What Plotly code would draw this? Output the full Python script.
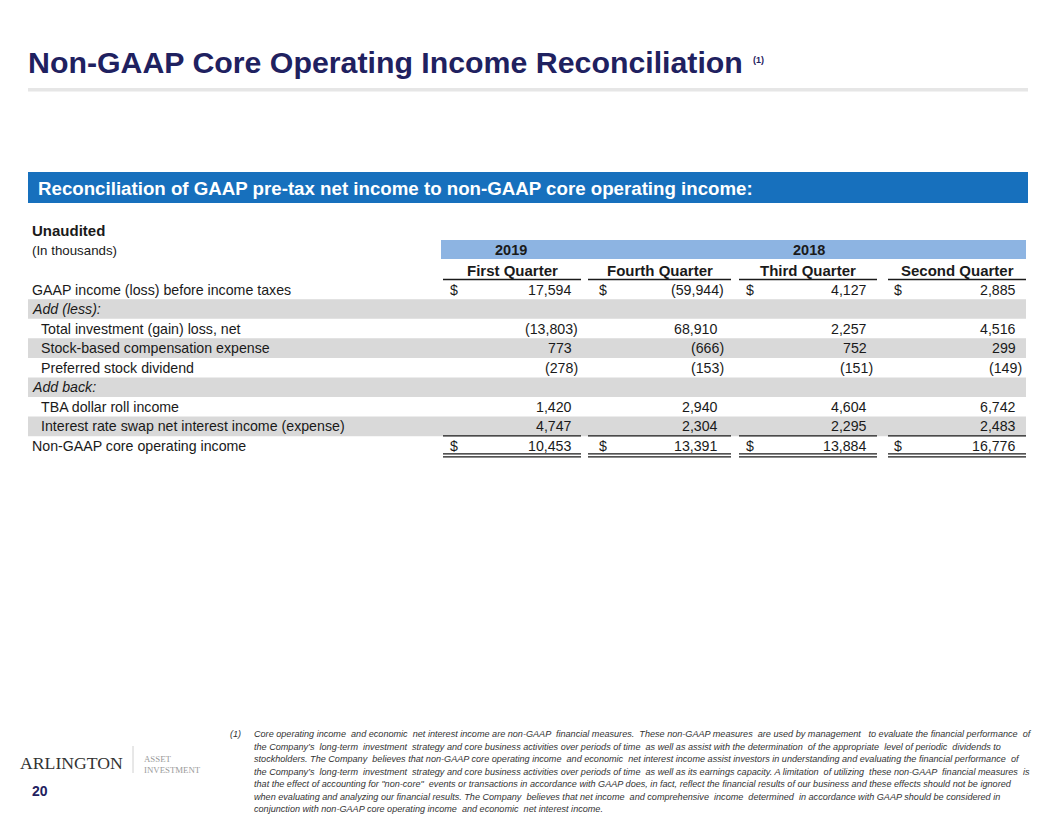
import plotly.graph_objects as go

# ---------------- data ----------------
title_text = "Non-GAAP Core Operating Income Reconciliation"
title_note = "(1)"
banner_text = "Reconciliation of GAAP pre-tax net income to non-GAAP core operating income:"
subtitle_bold = "Unaudited"
subtitle_units = "(In thousands)"
years = ["2019", "2018"]
quarters = ["First Quarter", "Fourth Quarter", "Third Quarter", "Second Quarter"]
row_labels = [
    "GAAP income (loss) before income taxes",
    "Add (less):",
    "Total investment (gain) loss, net",
    "Stock-based compensation expense",
    "Preferred stock dividend",
    "Add back:",
    "TBA dollar roll income",
    "Interest rate swap net interest income (expense)",
    "Non-GAAP core operating income",
]
row_kinds = ["dollar", "section", "item", "item", "item", "section", "item", "item", "total"]
first_quarter_2019 = [17594, None, -13803, 773, -278, None, 1420, 4747, 10453]
fourth_quarter_2018 = [-59944, None, 68910, -666, -153, None, 2940, 2304, 13391]
third_quarter_2018 = [4127, None, 2257, 752, -151, None, 4604, 2295, 13884]
second_quarter_2018 = [2885, None, 4516, 299, -149, None, 6742, 2483, 16776]
page_number = "20"
logo_main = "ARLINGTON"
logo_sub = ["ASSET", "INVESTMENT"]
footnote_lines = [
    "Core operating income  and economic  net interest income are non-GAAP  financial measures.  These non-GAAP measures  are used by management   to evaluate the financial performance  of",
    "the Company\u2019s  long-term  investment  strategy and core business activities over periods of time  as well as assist with the determination  of the appropriate  level of periodic  dividends to",
    "stockholders. The Company  believes that non-GAAP core operating income  and economic  net interest income assist investors in understanding and evaluating the financial performance  of",
    "the Company\u2019s  long-term  investment  strategy and core business activities over periods of time  as well as its earnings capacity. A limitation  of utilizing  these non-GAAP  financial measures  is",
    "that the effect of accounting for \"non-core\"  events or transactions in accordance with GAAP does, in fact, reflect the financial results of our business and these effects should not be ignored",
    "when evaluating and analyzing our financial results. The Company  believes that net income  and comprehensive  income  determined  in accordance with GAAP should be considered in",
    "conjunction with non-GAAP core operating income  and economic  net interest income.",
]

columns = [first_quarter_2019, fourth_quarter_2018, third_quarter_2018, second_quarter_2018]

# ---------------- style / layout ----------------
W, H = 1056, 816
OFF = 8  # page body margin of the html page
NAVY = "#1f2160"
BLUE = "#1770bd"
LIGHT_BLUE = "#8db4e2"
GRAY_BAND = "#d9d9d9"
TEXT = "#1a1a1a"
FONT = "Arial, Liberation Sans, sans-serif"
SERIF = "Liberation Serif, Times New Roman, serif"

L, R = 28, 1026
row_y0, row_pitch = 289.5, 19.55
col_left = [443, 588, 739, 888]
col_right = [581, 731, 877, 1026]
col_dollar = [454, 603, 750, 898]
col_value = [573, 719, 868, 1017]
ROW_FS = 14.2

shapes = []
ann = []


def text(x, y, s, size=13, color=TEXT, xanchor="left", bold=False, italic=False, family=FONT):
    if bold:
        s = "<b>" + s + "</b>"
    if italic:
        s = "<i>" + s + "</i>"
    ann.append(dict(x=x, y=y, xref="x", yref="y", text=s, showarrow=False,
                    xanchor=xanchor, yanchor="middle", borderpad=0,
                    font=dict(size=size, color=color, family=family)))


def rect(x0, y0, x1, y1, color):
    shapes.append(dict(type="rect", xref="x", yref="y", x0=x0, y0=y0, x1=x1, y1=y1,
                       fillcolor=color, line=dict(width=0), layer="below"))


def hline(x0, x1, y, color=TEXT, width=1):
    shapes.append(dict(type="line", xref="x", yref="y", x0=x0, x1=x1, y0=y, y1=y,
                       line=dict(color=color, width=width)))


def fmt(v):
    return "({:,})".format(-v) if v < 0 else "{:,}".format(v)


# title
text(L - 1, 62, title_text, size=30.3, color=NAVY, bold=True)
text(752, 60, title_note, size=9, color=NAVY, bold=True)
rect(L, 88, 1028, 91.5, "#e6e6e6")

# banner
rect(L, 172, 1028, 203, BLUE)
text(37, 188, banner_text, size=18.7, color="white", bold=True)

# sub headings
text(31, 230, subtitle_bold, size=15, bold=True)
text(31, 250, subtitle_units, size=13.3)

# header band and year labels
rect(441, 240, R, 259, LIGHT_BLUE)
text(511, 250, years[0], size=14.5, bold=True, xanchor="center")
text(809, 250, years[1], size=14.5, bold=True, xanchor="center")
for i, q in enumerate(quarters):
    text((col_left[i] + col_right[i]) / 2, 270, q, size=15, bold=True, xanchor="center")
    hline(col_left[i], col_right[i], 279.5, width=1.3)

# rows
for r, (lab, kind) in enumerate(zip(row_labels, row_kinds)):
    yc = row_y0 + r * row_pitch
    if r % 2 == 1:
        rect(L, yc - 9.8, R, yc + 9.8, GRAY_BAND)
    if kind == "section":
        text(31, yc, lab, size=ROW_FS, italic=True)
        continue
    x_lab = 40 if kind == "item" else 31
    text(x_lab, yc, lab, size=ROW_FS)
    for c, col in enumerate(columns):
        v = col[r]
        if v is None:
            continue
        xr = col_value[c] + (5.5 if v < 0 else 0)
        text(xr, yc, fmt(v), size=ROW_FS, xanchor="right")
        if kind in ("dollar", "total"):
            text(col_dollar[c], yc, "$", size=ROW_FS, xanchor="center")
    if kind == "total":
        for c in range(4):
            hline(col_left[c], col_right[c], yc - 10, width=1.3)
            hline(col_left[c], col_right[c], yc + 8, width=1.2)
            hline(col_left[c], col_right[c], yc + 11, width=1.2)

# logo and page number
text(19, 763, logo_main, size=17.7, color="#333333", family=SERIF)
shapes.append(dict(type="line", xref="x", yref="y", x0=133, x1=133, y0=746, y1=773,
                   line=dict(color="#d0d0d0", width=1)))
text(143, 758.5, logo_sub[0], size=8.8, color="#9a9a9a", family=SERIF)
text(143, 769.5, logo_sub[1], size=8.8, color="#9a9a9a", family=SERIF)
text(31, 791, page_number, size=14, color=NAVY, bold=True)

# footnote
text(229, 734, "(1)", size=9.1, color="#333333", italic=True)
for i, line in enumerate(footnote_lines):
    text(253, 734 + i * 12.5, line, size=9.1, color="#333333", italic=True)

fig = go.Figure()
fig.update_layout(
    width=W - OFF, height=H - OFF, margin=dict(l=0, r=0, t=0, b=0),
    paper_bgcolor="white", plot_bgcolor="white",
    xaxis=dict(range=[OFF, W], visible=False, fixedrange=True),
    yaxis=dict(range=[H, OFF], visible=False, fixedrange=True),
    shapes=shapes, annotations=ann, showlegend=False,
)
fig.write_html("out.html")
